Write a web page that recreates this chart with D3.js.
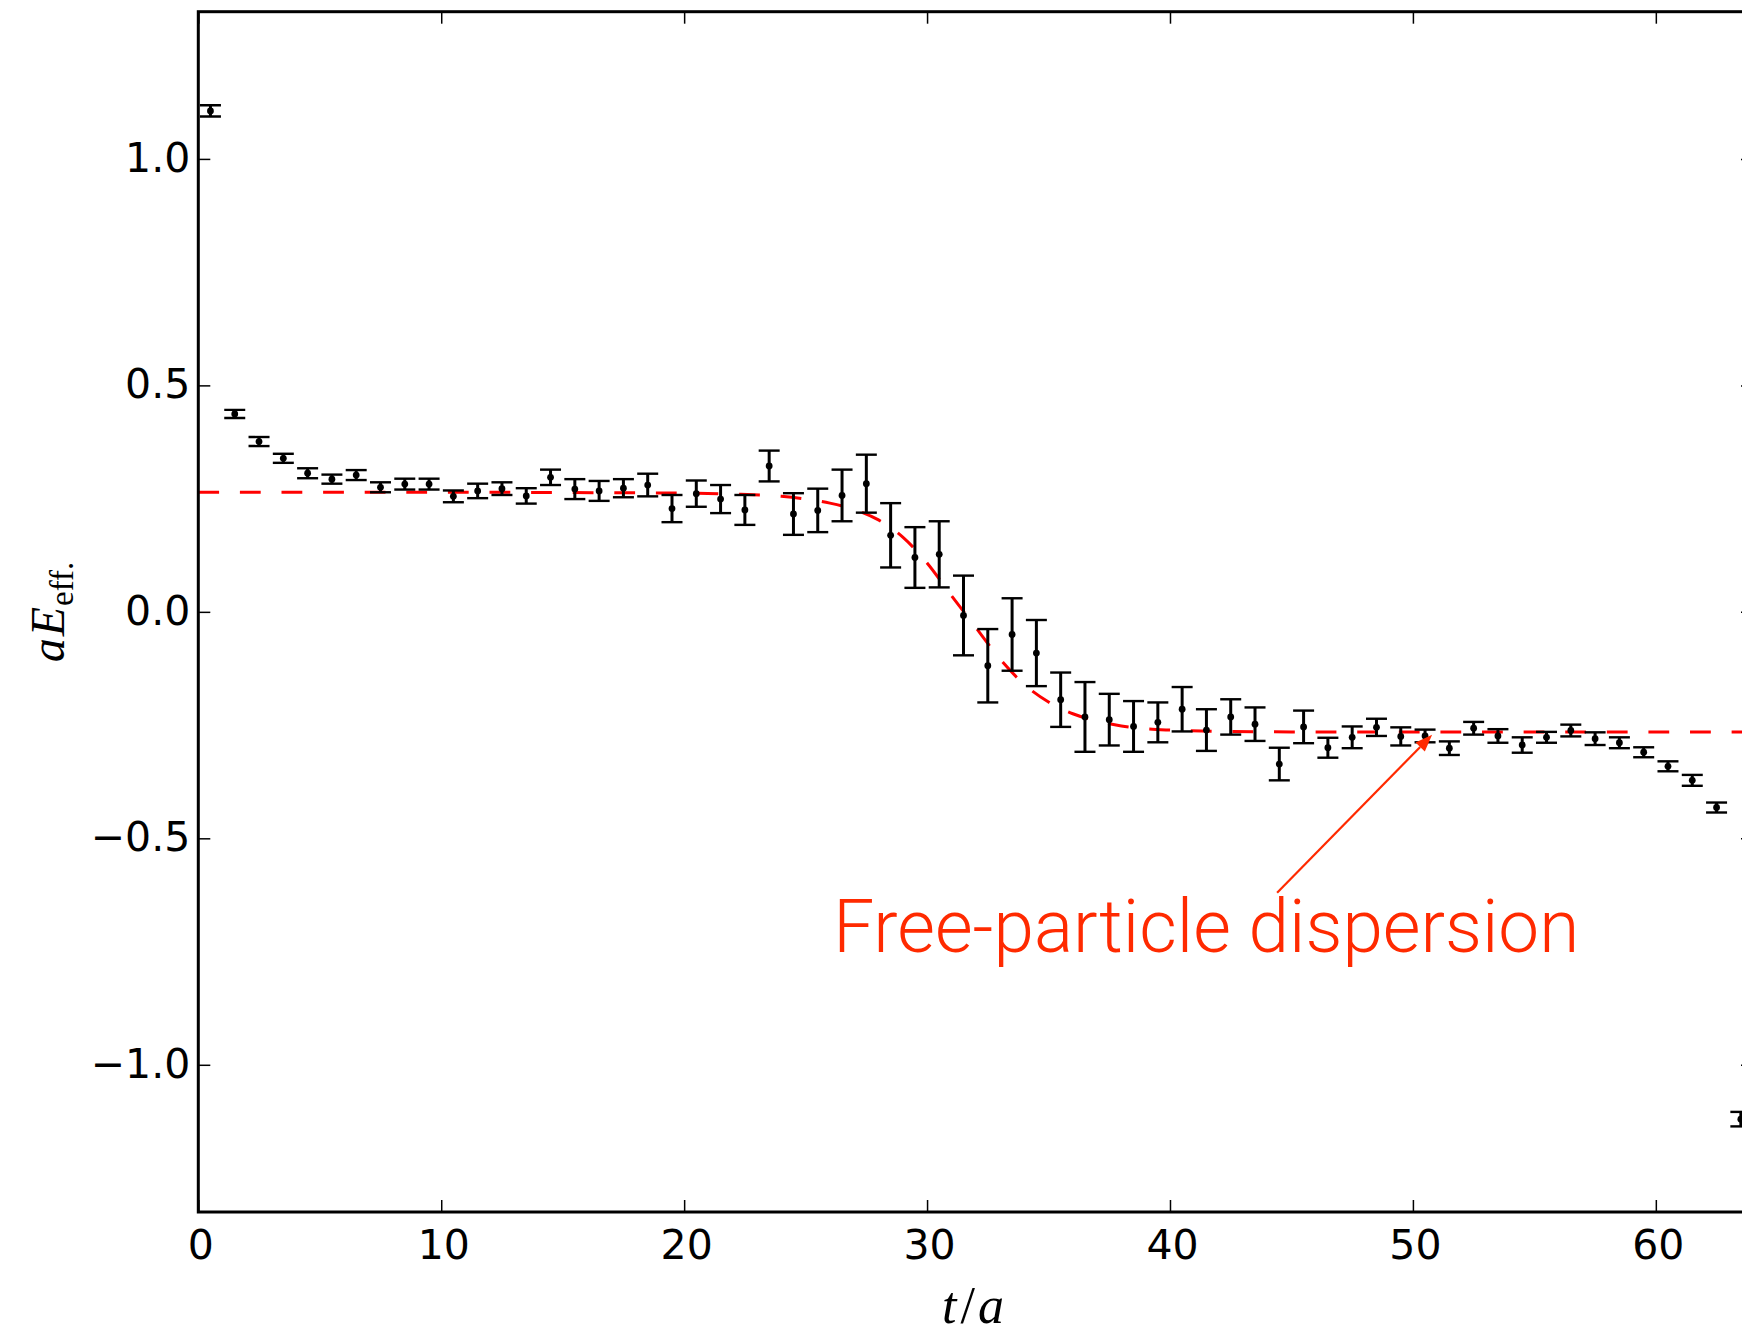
<!DOCTYPE html>
<html>
<head>
<meta charset="utf-8">
<script src="https://cdn.jsdelivr.net/npm/d3@7"></script>
<style>
  html, body { margin: 0; padding: 0; background: #fff; }
  svg { display: block; }
</style>
</head>
<body>
<script>
// ---- data ----
const tValues = [0.5,1.5,2.5,3.5,4.5,5.5,6.5,7.5,8.5,9.5,10.5,11.5,12.5,13.5,14.5,15.5,
  16.5,17.5,18.5,19.5,20.5,21.5,22.5,23.5,24.5,25.5,26.5,27.5,28.5,29.5,30.5,31.5,
  32.5,33.5,34.5,35.5,36.5,37.5,38.5,39.5,40.5,41.5,42.5,43.5,44.5,45.5,46.5,47.5,
  48.5,49.5,50.5,51.5,52.5,53.5,54.5,55.5,56.5,57.5,58.5,59.5,60.5,61.5,62.5,63.5];
const effEnergy = [1.106,0.437,0.376,0.339,0.306,0.293,0.302,0.275,0.282,0.282,0.255,0.267,
  0.272,0.256,0.297,0.271,0.267,0.273,0.280,0.228,0.261,0.249,0.225,0.322,0.216,0.224,
  0.257,0.283,0.169,0.120,0.127,-0.008,-0.119,-0.050,-0.091,-0.194,-0.232,-0.238,-0.253,
  -0.244,-0.215,-0.261,-0.232,-0.248,-0.336,-0.254,-0.300,-0.277,-0.255,-0.275,-0.274,
  -0.301,-0.257,-0.274,-0.294,-0.277,-0.262,-0.280,-0.289,-0.310,-0.341,-0.372,-0.432,-1.120];
const effError = [0.0125,0.009,0.010,0.010,0.011,0.010,0.011,0.011,0.012,0.012,0.013,0.016,
  0.014,0.017,0.017,0.022,0.022,0.020,0.025,0.030,0.029,0.031,0.033,0.034,0.046,0.048,
  0.057,0.064,0.071,0.067,0.073,0.088,0.081,0.080,0.073,0.060,0.077,0.057,0.056,0.044,
  0.049,0.046,0.039,0.037,0.036,0.036,0.022,0.024,0.019,0.020,0.014,0.015,0.014,0.015,
  0.017,0.012,0.013,0.014,0.012,0.011,0.011,0.012,0.011,0.016];
// free-particle dispersion curve
const curveT = [0,10,20,22,24,25,26,27,28,29,30,31,32,33,34,35,36,37,38,39,40,42,45,55,64];
const curveE = [0.264,0.264,0.262,0.260,0.255,0.249,0.240,0.226,0.203,0.165,0.108,0.036,
  -0.034,-0.104,-0.160,-0.199,-0.225,-0.241,-0.252,-0.258,-0.261,-0.264,-0.265,-0.265,-0.265];
const xTicks = [0,10,20,30,40,50,60];
const yTicks = [-1.0,-0.5,0.0,0.5,1.0];
const xDomain = [0,64];
const yDomain = [-1.325,1.325];
const annotationText = "Free-particle dispersion";
const annotationTip = [50.79,-0.2715];
const annotationFrom = [44.41,-0.620];
const annotationTextPos = [26.14,-0.751];

// ---- layout ----
const W = 1742, H = 1339;
const L = 198.3, R = 1753, T = 11.7, B = 1212;

const svg = d3.select("body").append("svg").attr("width", W).attr("height", H);
const x = d3.scaleLinear().domain(xDomain).range([L, R]);
const y = d3.scaleLinear().domain(yDomain).range([B, T]);

svg.append("defs").append("clipPath").attr("id","plotclip")
  .append("rect").attr("x", L).attr("y", T).attr("width", R-L).attr("height", B-T);

const plot = svg.append("g").attr("clip-path","url(#plotclip)");

// dashed fit curve
const curveData = curveT.map((t,i)=>[t, curveE[i]]);
plot.append("path")
  .datum(curveData)
  .attr("d", d3.line().x(d=>x(d[0])).y(d=>y(d[1])).curve(d3.curveMonotoneX))
  .attr("fill","none").attr("stroke","#ff0000").attr("stroke-width",3)
  .attr("stroke-dasharray","20.8,20.8");

// error bars
const pts = tValues.map((t,i)=>({t, v:effEnergy[i], e:effError[i]}));
const eb = plot.append("g").selectAll("g").data(pts).join("g");
eb.append("line")
  .attr("x1", d=>x(d.t)).attr("x2", d=>x(d.t))
  .attr("y1", d=>y(d.v+d.e)).attr("y2", d=>y(d.v-d.e))
  .attr("stroke","#000").attr("stroke-width",3);
eb.append("line")
  .attr("x1", d=>x(d.t)-10.5).attr("x2", d=>x(d.t)+10.5)
  .attr("y1", d=>y(d.v+d.e)).attr("y2", d=>y(d.v+d.e))
  .attr("stroke","#000").attr("stroke-width",2.4);
eb.append("line")
  .attr("x1", d=>x(d.t)-10.5).attr("x2", d=>x(d.t)+10.5)
  .attr("y1", d=>y(d.v-d.e)).attr("y2", d=>y(d.v-d.e))
  .attr("stroke","#000").attr("stroke-width",2.4);
eb.append("circle")
  .attr("cx", d=>x(d.t)).attr("cy", d=>y(d.v)).attr("r",3.4).attr("fill","#000");

// ---- axes ----
const tickFont = "'DejaVu Sans', sans-serif";
const fmt = d => (d < 0 ? "\u2212" : "") + Math.abs(d).toFixed(1);

const bottomAxis = d3.axisBottom(x).tickValues(xTicks).tickSizeInner(-12).tickSizeOuter(0).tickPadding(17).tickFormat(d3.format("d"));
const topAxis = d3.axisTop(x).tickValues(xTicks).tickSizeInner(-12).tickSizeOuter(0).tickFormat("");
const leftAxis = d3.axisLeft(y).tickValues(yTicks).tickSizeInner(-12).tickSizeOuter(0).tickPadding(8).tickFormat(fmt);
const rightAxis = d3.axisRight(y).tickValues(yTicks).tickSizeInner(-12).tickSizeOuter(0).tickFormat("");

function styleAxis(g){
  g.select(".domain").remove();
  g.selectAll(".tick line").attr("stroke","#000").attr("stroke-width",1.5);
  g.selectAll(".tick text").attr("fill","#000").style("font-family", tickFont).style("font-size","41px");
}
const gb = svg.append("g").attr("transform",`translate(0,${B})`).call(bottomAxis).call(styleAxis);
gb.selectAll(".tick text").attr("dy", null).attr("y", 47).attr("dx", 2);
const gt = svg.append("g").attr("transform",`translate(0,${T})`).call(topAxis).call(styleAxis);
const gl = svg.append("g").attr("transform",`translate(${L},0)`).call(leftAxis).call(styleAxis);
gl.selectAll(".tick text").attr("dy", null).attr("y", 12.5).attr("x", -8);
const gr = svg.append("g").attr("transform",`translate(${R},0)`).call(rightAxis).call(styleAxis);

// spines
svg.append("rect").attr("x", L).attr("y", T).attr("width", R-L).attr("height", B-T)
  .attr("fill","none").attr("stroke","#000").attr("stroke-width",3);

// axis labels
const serif = "'Liberation Serif', 'DejaVu Serif', serif";
const xl = svg.append("text").attr("x", 973).attr("y", 1323).attr("text-anchor","middle")
  .style("font-family", serif).style("font-size","52px").attr("fill","#000");
xl.append("tspan").style("font-style","italic").text("t");
xl.append("tspan").attr("dx", 4).text("/");
xl.append("tspan").attr("dx", 3).style("font-style","italic").text("a");

const yl = svg.append("text").attr("transform","translate(64,612) rotate(-90)")
  .attr("text-anchor","middle").style("font-family", serif).style("font-size","48px").attr("fill","#000");
yl.append("tspan").style("font-style","italic").text("a");
yl.append("tspan").attr("dx", 2).style("font-style","italic").text("E");
yl.append("tspan").attr("dy", 9).attr("dx", 1).style("font-size","33px").text("eff.");

// annotation
const annColor = "#ff2a00";
const ax0 = x(annotationFrom[0]), ay0 = y(annotationFrom[1]);
const ax1 = x(annotationTip[0]), ay1 = y(annotationTip[1]);
const ang = Math.atan2(ay1-ay0, ax1-ax0);
const headLen = 17, headW = 6.5;
const bx = ax1 - headLen*Math.cos(ang), by = ay1 - headLen*Math.sin(ang);
svg.append("line").attr("x1", ax0).attr("y1", ay0).attr("x2", bx).attr("y2", by)
  .attr("stroke", annColor).attr("stroke-width", 2.2);
svg.append("path")
  .attr("d", `M${ax1},${ay1} L${bx + headW*Math.sin(ang)},${by - headW*Math.cos(ang)} L${bx - headW*Math.sin(ang)},${by + headW*Math.cos(ang)} Z`)
  .attr("fill", annColor);
svg.append("text").attr("x", x(annotationTextPos[0])).attr("y", y(annotationTextPos[1]))
  .style("font-family","Roboto, 'Liberation Sans', sans-serif").style("font-weight",300)
  .style("font-size","75px").attr("fill", annColor)
  .attr("textLength", 746).attr("lengthAdjust","spacingAndGlyphs")
  .text(annotationText);
</script>
</body>
</html>
